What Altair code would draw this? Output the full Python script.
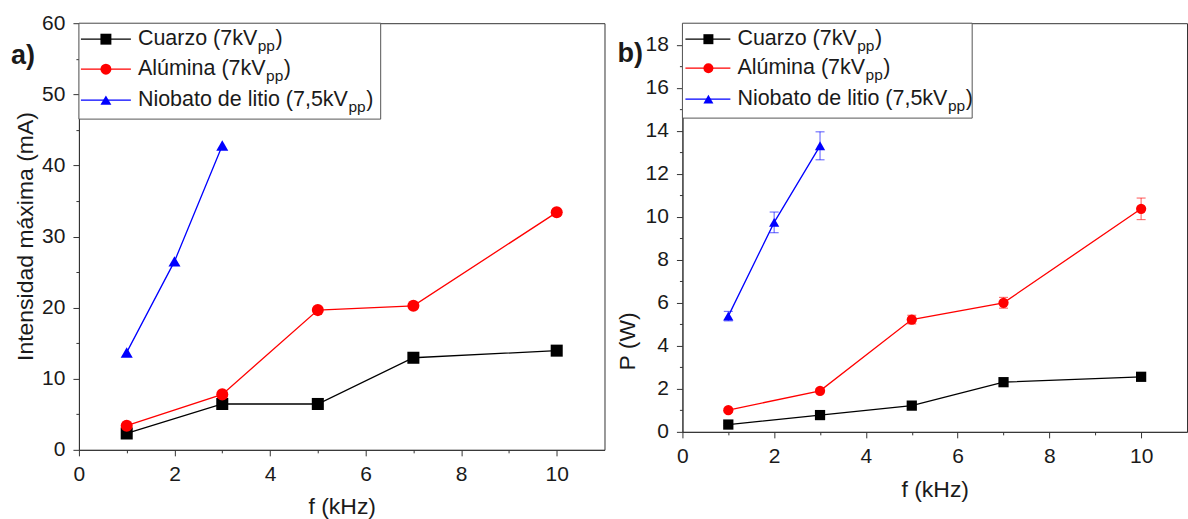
import altair as alt
import pandas as pd

# ---------------- data ----------------
series = ["Cuarzo", "Alúmina", "Niobato de litio"]
colors = ["#000000", "#ff0000", "#0000ff"]
shapes = ["square", "circle", "triangle-up"]
legend_main = ["Cuarzo (7kV", "Alúmina (7kV", "Niobato de litio (7,5kV"]
legend_sub = "pp"

f_cuarzo = [1, 3, 5, 7, 10]
f_alumina = [1, 3, 5, 7, 10]
f_niobato = [1, 2, 3]

I_cuarzo = [2.3, 6.45, 6.45, 12.95, 13.95]
I_alumina = [3.4, 7.8, 19.65, 20.25, 33.4]
I_niobato = [13.7, 26.5, 42.8]

P_cuarzo = [0.34, 0.78, 1.22, 2.31, 2.56]
P_alumina = [1.01, 1.91, 5.22, 6.0, 10.37]
P_niobato = [5.38, 9.74, 13.3]
Perr_cuarzo = [0.05, 0.06, 0.08, 0.1, 0.1]
Perr_alumina = [0.08, 0.1, 0.2, 0.25, 0.5]
Perr_niobato = [0.22, 0.48, 0.65]

x_ticks = list(range(0, 11))
ya_ticks = list(range(0, 61, 5))
yb_ticks = list(range(0, 19))

FONT = "Liberation Sans"
TXT = "#1a1a1a"
AX = "#333333"

# Arial / Liberation Sans advance widths (per 1000 em) for legend layout
W = {'C': 722, 'u': 556, 'a': 556, 'r': 333, 'z': 500, 'o': 556, ' ': 278, '(': 333,
     '7': 556, 'k': 500, 'V': 667, 'A': 667, 'l': 222, 'ú': 556, 'm': 833, 'i': 222,
     'n': 556, 'N': 722, 'b': 556, 't': 278, 'd': 556, 'e': 556, ',': 278, '5': 556,
     'p': 556, ')': 333}


def text_width(s, fs):
    return sum(W.get(c, 556) for c in s) * fs / 1000.0


def build_df(fs, vals, errs=None):
    rows = []
    for k, name in enumerate(series):
        for j, f in enumerate(fs[k]):
            r = {"serie": name, "f": f, "v": vals[k][j]}
            if errs is not None:
                r["lo"] = vals[k][j] - errs[k][j]
                r["hi"] = vals[k][j] + errs[k][j]
            rows.append(r)
    return pd.DataFrame(rows)


df_a = build_df([f_cuarzo, f_alumina, f_niobato], [I_cuarzo, I_alumina, I_niobato])
df_b = build_df([f_cuarzo, f_alumina, f_niobato], [P_cuarzo, P_alumina, P_niobato],
                [Perr_cuarzo, Perr_alumina, Perr_niobato])

color_scale = alt.Scale(domain=series, range=colors)
shape_scale = alt.Scale(domain=series, range=shapes)
one = pd.DataFrame({"k": [0]})


def legend_layers(box_w, box_h, lx1, lx2, mx, tx, rows_y, fs, msize):
    layers = [alt.Chart(one).mark_rect(fill="white", stroke="#555555", strokeWidth=1).encode(
        x=alt.value(0), x2=alt.value(box_w), y=alt.value(0), y2=alt.value(box_h))]
    fs_sub = fs * 0.72
    for k in range(len(series)):
        yr = rows_y[k]
        layers.append(alt.Chart(one).mark_rule(color=colors[k], strokeWidth=1.3).encode(
            x=alt.value(lx1), x2=alt.value(lx2), y=alt.value(yr)))
        layers.append(alt.Chart(one).mark_point(shape=shapes[k], filled=True, color=colors[k],
                                                 size=msize, opacity=1).encode(
            x=alt.value(mx), y=alt.value(yr)))
        w1 = text_width(legend_main[k], fs)
        w2 = text_width(legend_sub, fs_sub)
        layers.append(alt.Chart(one).mark_text(align="left", baseline="middle", fontSize=fs,
                                                font=FONT, color=TXT).encode(
            x=alt.value(tx), y=alt.value(yr), text=alt.value(legend_main[k])))
        layers.append(alt.Chart(one).mark_text(align="left", baseline="middle", fontSize=fs_sub,
                                                font=FONT, color=TXT).encode(
            x=alt.value(tx + w1 + 0.5), y=alt.value(yr + 7), text=alt.value(legend_sub)))
        layers.append(alt.Chart(one).mark_text(align="left", baseline="middle", fontSize=fs,
                                                font=FONT, color=TXT).encode(
            x=alt.value(tx + w1 + w2 + 1), y=alt.value(yr), text=alt.value(")")))
    return layers


def x_axis(title_y):
    return alt.Axis(values=x_ticks, title="f (kHz)",
                    labelExpr="datum.value % 2 == 0 ? datum.label : ''",
                    tickSize={"condition": {"test": "datum.value % 2 != 0", "value": 3}, "value": 6},
                    labelFlush=False, titleY=title_y, titleBaseline="alphabetic")


def y_axis(title, values, major, title_x, title_y):
    return alt.Axis(values=values, title=title,
                    labelExpr=f"datum.value % {major} == 0 ? datum.label : ''",
                    tickSize={"condition": {"test": f"datum.value % {major} != 0", "value": 3}, "value": 6},
                    labelFlush=False, titleX=title_x, titleY=title_y, titleBaseline="bottom")


def panel(df, width, height, ydom, yax, msize, tag, tag_x, tag_y, legend, title_y, errors=False):
    xs = alt.X("f:Q", scale=alt.Scale(domain=[0, 11], nice=False), axis=x_axis(title_y))
    ys = alt.Y("v:Q", scale=alt.Scale(domain=ydom, nice=False), axis=yax)
    base = alt.Chart(df)
    layers = []
    if errors:
        layers.append(base.mark_errorbar(ticks={"size": 9}, opacity=0.55, thickness=1.2).encode(
            x=xs, y=alt.Y("lo:Q", scale=alt.Scale(domain=ydom, nice=False), axis=yax),
            y2="hi:Q", color=alt.Color("serie:N", scale=color_scale, legend=None)))
    layers.append(base.mark_line(strokeWidth=1.3).encode(
        x=xs, y=ys, color=alt.Color("serie:N", scale=color_scale, legend=None),
        detail="serie:N"))
    layers.append(base.mark_point(filled=True, opacity=1, size=msize).encode(
        x=xs, y=ys, color=alt.Color("serie:N", scale=color_scale, legend=None),
        shape=alt.Shape("serie:N", scale=shape_scale, legend=None)))
    layers += legend
    layers.append(alt.Chart(one).mark_text(align="left", baseline="alphabetic", fontSize=27,
                                            fontWeight="bold", font=FONT, color=TXT).encode(
        x=alt.value(tag_x), y=alt.value(tag_y), text=alt.value(tag)))
    return alt.layer(*layers).properties(width=width, height=height)


leg_a = legend_layers(302, 96, 2, 52, 27, 59, [16, 46, 77], 21.5, 120)
leg_b = legend_layers(290, 95, 3, 48, 26, 55, [16, 45, 76], 21.5, 100)

pa = panel(df_a, 526, 427, [0, 60],
           y_axis("Intensidad máxima (mA)", ya_ticks, 10, -41, 213),
           145, "a)", -68, 41, leg_a, 64)
pb = panel(df_b, 505, 409, [0, 19],
           y_axis("P (W)", yb_ticks, 2, -43, 318),
           105, "b)", -65, 39, leg_b, 65, errors=True)

chart = alt.hconcat(pa, pb, spacing=78, bounds="flush").properties(
    padding={"left": 10, "top": 11, "right": 0, "bottom": 0}
).configure_view(stroke=AX, strokeWidth=1).configure_axis(
    labelFont=FONT, titleFont=FONT, labelFontSize=21, titleFontSize=23,
    titleFontWeight="normal", labelColor=TXT, titleColor=TXT,
    domainColor=AX, tickColor=AX, labelPadding=8, grid=False
)

chart.save("out.html", embed_options={"renderer": "svg", "actions": False})
